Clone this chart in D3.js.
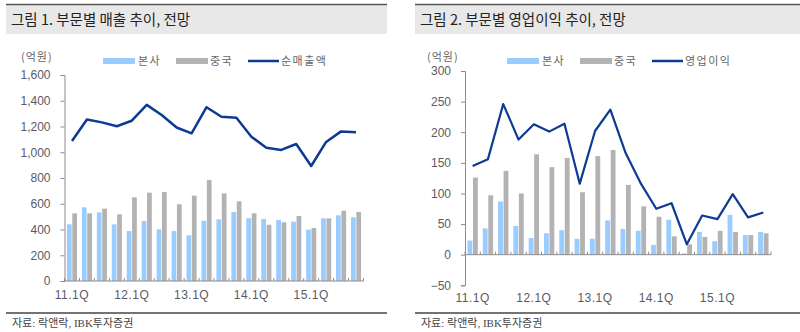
<!DOCTYPE html>
<html><head><meta charset="utf-8">
<script src="https://cdn.jsdelivr.net/npm/d3@7"></script>
<style>
body{margin:0;background:#fff;}
svg text{font-family:"Liberation Sans","Noto Sans CJK KR",sans-serif;}
</style></head>
<body><svg id="c" width="800" height="332"></svg>
<script>
const quarters = ["11.1Q","11.2Q","11.3Q","11.4Q","12.1Q","12.2Q","12.3Q","12.4Q","13.1Q","13.2Q","13.3Q","13.4Q","14.1Q","14.2Q","14.3Q","14.4Q","15.1Q","15.2Q","15.3Q","15.4Q"];
const tickQuarters = ["11.1Q","12.1Q","13.1Q","14.1Q","15.1Q"];

// Figure 1: sales (억원)
const salesHQ    = [440,572,533,440,388,466,401,388,355,468,479,536,487,482,474,461,399,487,510,495];
const salesChina = [526,526,562,518,650,686,691,596,663,784,681,619,526,437,456,505,412,487,546,536];
const salesTotal = [1087,1255,1232,1202,1245,1368,1289,1192,1147,1350,1276,1268,1121,1035,1018,1064,893,1080,1162,1155];
const salesTicks = [0,200,400,600,800,1000,1200,1400,1600];

// Figure 2: operating profit (억원)
const opHQ    = [23,43,87,47,27,35,40,26,26,56,42,39,16,57,2,37,22,65,32,37];
const opChina = [126,97,137,100,164,143,158,102,161,171,114,79,62,30,17,29,39,37,32,35];
const opTotal = [145,156,246,188,213,201,214,116,202,237,166,116,75,84,17,64,58,99,61,69];
const opTicks = [-50,0,50,100,150,200,250,300];

const C_HQ = "#99ccff", C_CN = "#b3b3b3", C_LINE = "#0d3b93";
const svg = d3.select("#c");

function panel(o){
  const g = svg.append("g");
  // title bar
  g.append("rect").attr("x",o.bx).attr("y",4).attr("width",o.bw).attr("height",30).attr("fill","#e8e8e8");
  g.append("line").attr("x1",o.bx).attr("x2",o.bx+o.bw).attr("y1",4.5).attr("y2",4.5).attr("stroke","#555").attr("stroke-width",1.5);
  g.append("text").attr("x",o.bx+5).attr("y",25).attr("font-size",14.5).attr("fill","#222")
    .style("font-family","'Noto Sans CJK KR',sans-serif").text(o.title);
  // unit
  g.append("text").attr("x",o.ux).attr("y",61).attr("font-size",11).attr("fill","#666")
    .style("font-family","'Noto Sans CJK KR',sans-serif").style("letter-spacing","1px").text("(억원)");
  // legend
  const lg = g.append("g").attr("transform",`translate(${o.lx},0)`).style("font-family","'Noto Sans CJK KR',sans-serif").style("letter-spacing","1.5px");
  lg.append("rect").attr("x",0).attr("y",58).attr("width",32).attr("height",6).attr("fill",C_HQ);
  lg.append("text").attr("x",35).attr("y",65).attr("font-size",11).attr("fill","#666").text("본사");
  lg.append("rect").attr("x",73).attr("y",58).attr("width",32).attr("height",6).attr("fill",C_CN);
  lg.append("text").attr("x",107).attr("y",65).attr("font-size",11).attr("fill","#666").text("중국");
  lg.append("line").attr("x1",145).attr("x2",176).attr("y1",61).attr("y2",61).attr("stroke",C_LINE).attr("stroke-width",2.5);
  lg.append("text").attr("x",178).attr("y",65).attr("font-size",11).attr("fill","#666").text(o.lineName);

  const x = d3.scaleBand().domain(quarters).range([o.x0,o.x1]);
  const xs = d3.scaleBand().domain(["hq","cn"]).range([0,x.bandwidth()]).paddingInner(0.12).paddingOuter(0.45);
  const y = d3.scaleLinear().domain([o.ticks[0],o.ticks[o.ticks.length-1]]).range([o.y0,o.y1]);

  // bars
  g.append("g").selectAll("rect").data(quarters).join("rect")
    .attr("x",(d,i)=>x(d)+xs("hq")).attr("width",xs.bandwidth())
    .attr("y",(d,i)=>Math.min(y(o.hq[i]),y(0))).attr("height",(d,i)=>Math.abs(y(0)-y(o.hq[i]))).attr("fill",C_HQ);
  g.append("g").selectAll("rect").data(quarters).join("rect")
    .attr("x",(d,i)=>x(d)+xs("cn")).attr("width",xs.bandwidth())
    .attr("y",(d,i)=>Math.min(y(o.cn[i]),y(0))).attr("height",(d,i)=>Math.abs(y(0)-y(o.cn[i]))).attr("fill",C_CN);

  // y axis
  const ya = g.append("g").attr("transform",`translate(${o.x0},0)`)
    .call(d3.axisLeft(y).tickValues(o.ticks).tickSize(4).tickPadding(10).tickFormat(d3.format(",")));
  ya.select(".domain").attr("stroke","#8c8c8c");
  ya.selectAll(".tick line").attr("stroke","#8c8c8c");
  ya.selectAll("text").attr("font-size",12).attr("fill","#5a5a66").style("font-family","'Liberation Sans',sans-serif");

  // x axis baseline with ticks at band boundaries
  const xa = g.append("g");
  xa.append("line").attr("x1",o.x0).attr("x2",o.x1).attr("y1",y(0)).attr("y2",y(0)).attr("stroke","#8c8c8c").attr("stroke-width",1);
  xa.selectAll("line.t").data(quarters.concat(["end"])).join("line").attr("class","t")
    .attr("x1",(d,i)=>o.x0+i*x.step()).attr("x2",(d,i)=>o.x0+i*x.step())
    .attr("y1",y(0)).attr("y2",y(0)-3).attr("stroke","#8c8c8c");
  xa.selectAll("text").data(tickQuarters).join("text")
    .attr("x",d=>x(d)+x.bandwidth()/2).attr("y",o.xly).attr("text-anchor","middle")
    .attr("font-size",12).attr("fill","#5a5a66").style("letter-spacing","0.5px").text(d=>d);

  // line
  const line = d3.line().x((d,i)=>x(quarters[i])+x.bandwidth()/2).y(d=>y(d));
  g.append("path").datum(o.tot).attr("d",line).attr("fill","none").attr("stroke",C_LINE)
    .attr("stroke-width",o.lw).attr("stroke-linejoin","round");

  // footer
  g.append("line").attr("x1",o.bx).attr("x2",o.bx+o.bw).attr("y1",313).attr("y2",313).attr("stroke","#444").attr("stroke-width",1.5);
  g.append("text").attr("x",o.bx+6).attr("y",327).attr("font-size",11).attr("fill","#444")
    .style("font-family","'Liberation Serif','Noto Sans CJK KR',serif").text("자료: 락앤락, IBK투자증권");
}

panel({title:"그림 1. 부문별 매출 추이, 전망", lineName:"순매출액", bx:6, bw:381, ux:21, lx:103,
  x0:64.5, x1:363.5, y0:281, y1:75, ticks:salesTicks, hq:salesHQ, cn:salesChina, tot:salesTotal, xly:299, lw:2.5});
panel({title:"그림 2. 부문별 영업이익 추이, 전망", lineName:"영업이익", bx:415, bw:385, ux:427, lx:507,
  x0:465, x1:771, y0:285.3, y1:71, ticks:opTicks, hq:opHQ, cn:opChina, tot:opTotal, xly:302, lw:2.2});
</script></body></html>
